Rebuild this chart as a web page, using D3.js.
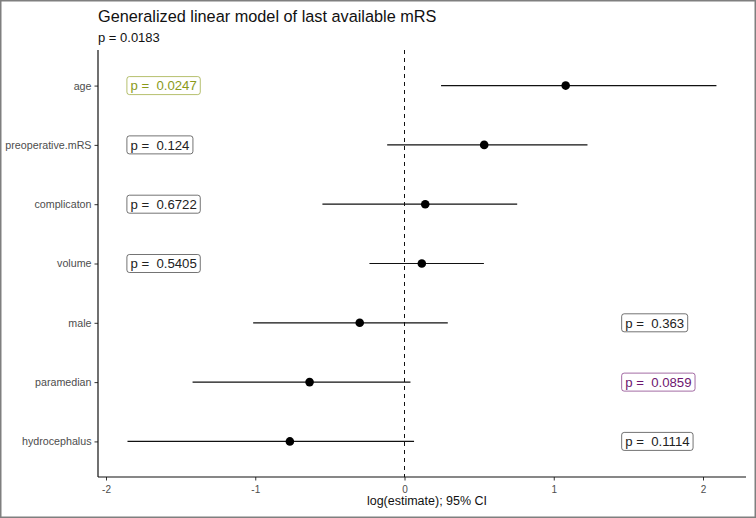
<!DOCTYPE html>
<html><head><meta charset="utf-8">
<script src="https://cdn.jsdelivr.net/npm/d3@7"></script>
<style>body{margin:0;background:#fff}svg{display:block;font-family:"Liberation Sans",Arial,sans-serif}text{white-space:pre}</style>
</head><body><svg id="c" width="756" height="518"></svg>
<script>
const categories = ["age","preoperative.mRS","complicaton","volume","male","paramedian","hydrocephalus"];
const estimates = [1.08, 0.534, 0.139, 0.116, -0.30, -0.636, -0.768];
const lower = [0.245, -0.116, -0.55, -0.235, -1.014, -1.42, -1.856];
const upper = [2.09, 1.226, 0.755, 0.532, 0.29, 0.04, 0.064];
const pLabels = ["p =  0.0247","p =  0.124","p =  0.6722","p =  0.5405","p =  0.363","p =  0.0859","p =  0.1114"];
const labelX = [-1.86,-1.86,-1.86,-1.86,1.455,1.455,1.455];
const labelColors = ["#8a9a1a","#222222","#222222","#222222","#222222","#6e1670","#222222"];
const xTicks = [-2,-1,0,1,2];
const title = "Generalized linear model of last available mRS";
const subtitle = "p = 0.0183";
const xLabel = "log(estimate); 95% CI";

const svg = d3.select("#c");
svg.append("rect").attr("x",0.75).attr("y",0.75).attr("width",754.5).attr("height",516.5)
  .attr("fill","#fff").attr("stroke","#7f7f7f").attr("stroke-width",1.5);

const m = {l:98, r:746, t:50, b:477};
const x = d3.scaleLinear().domain([-2,2]).range([106,703]);
const y = d3.scalePoint().domain(categories).range([m.t,m.b]).padding(0.6);

// title
svg.append("text").attr("x",98).attr("y",22).attr("font-size",16.3).attr("fill","#111").text(title);
svg.append("text").attr("x",98).attr("y",42).attr("font-size",13).attr("fill","#111").text(subtitle);

// axes
const xa = svg.append("g").attr("transform",`translate(0,${m.b})`)
  .call(d3.axisBottom(x).tickValues(xTicks).tickSize(3.5).tickSizeOuter(0).tickFormat(d=>String(d)));
xa.select(".domain").remove();
xa.selectAll("line").attr("stroke","#333");
xa.selectAll("text").attr("fill","#4d4d4d").attr("font-size",10).attr("dy","0.9em").attr("font-family","Liberation Sans, Arial, sans-serif");
svg.append("line").attr("x1",m.l).attr("x2",m.r).attr("y1",m.b).attr("y2",m.b).attr("stroke","#111").attr("stroke-width",1.2);

const ya = svg.append("g").attr("transform",`translate(${m.l},0)`)
  .call(d3.axisLeft(y).tickSize(3.5).tickSizeOuter(0).tickPadding(3));
ya.select(".domain").remove();
ya.selectAll("line").attr("stroke","#333");
ya.selectAll("text").attr("fill","#4d4d4d").attr("font-size",10.7).attr("font-family","Liberation Sans, Arial, sans-serif");
svg.append("line").attr("x1",m.l).attr("x2",m.l).attr("y1",m.t).attr("y2",m.b).attr("stroke","#111").attr("stroke-width",1.2);

svg.append("text").attr("x",427).attr("y",505).attr("text-anchor","middle")
  .attr("font-size",12.5).attr("fill","#111").text(xLabel);

// zero line
svg.append("line").attr("x1",x(0)).attr("x2",x(0)).attr("y1",m.t).attr("y2",m.b)
  .attr("stroke","#111").attr("stroke-width",1).attr("stroke-dasharray","4,4");

const rows = categories.map((c,i)=>({c,e:estimates[i],lo:lower[i],hi:upper[i],p:pLabels[i],lx:labelX[i],col:labelColors[i]}));

svg.selectAll(".ci").data(rows).join("line").attr("class","ci")
  .attr("x1",d=>x(d.lo)).attr("x2",d=>x(d.hi)).attr("y1",d=>y(d.c)).attr("y2",d=>y(d.c))
  .attr("stroke","#111").attr("stroke-width",1.2);
svg.selectAll(".pt").data(rows).join("circle").attr("class","pt")
  .attr("cx",d=>x(d.e)).attr("cy",d=>y(d.c)).attr("r",4.3).attr("fill","#000");

const lg = svg.selectAll(".lab").data(rows).join("g").attr("class","lab");
lg.each(function(d){
  const g = d3.select(this);
  const t = g.append("text").attr("x",x(d.lx)+3.5).attr("y",y(d.c)).attr("dy","0.36em")
    .attr("xml:space","preserve").attr("font-size",13.2).attr("fill",d.col).text(d.p);
  const bb = t.node().getBBox();
  g.insert("rect","text").attr("x",x(d.lx)).attr("y",y(d.c)-9).attr("width",bb.width+7).attr("height",18)
    .attr("rx",2.5).attr("fill","#fff").attr("stroke",d.col).attr("stroke-opacity",0.7).attr("stroke-width",0.9);
});
</script></body></html>
